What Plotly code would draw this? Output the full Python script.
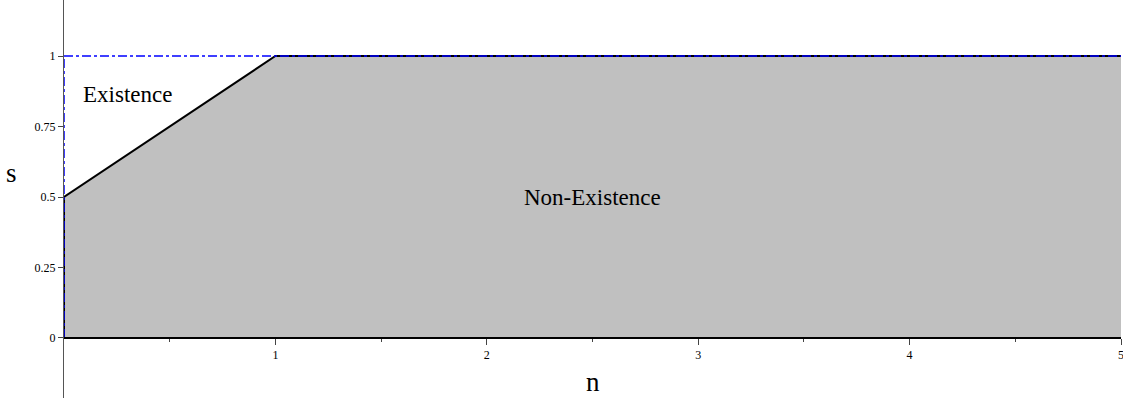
import plotly.graph_objects as go

# Data
n_boundary = [0, 0, 1, 5]
s_boundary = [0, 0.5, 1, 1]
n_fill = n_boundary + [5, 0]
s_fill = s_boundary + [0, 0]
n_top = [0, 5]
s_top = [1, 1]
n_left = [0, 0]
s_left = [0, 1]
x_ticks = [1, 2, 3, 4, 5]
y_ticks = [0, 0.25, 0.5, 0.75, 1]
y_labels = ["0", "0.25", "0.5", "0.75", "1"]

Y_MIN, Y_MAX = -0.2128, 1.1986
SERIF = "Times New Roman"

fig = go.Figure()
fig.add_trace(go.Scatter(x=n_fill, y=s_fill, mode="lines", fill="toself",
                         fillcolor="#C0C0C0", line=dict(width=0), hoverinfo="skip",
                         showlegend=False))
fig.add_trace(go.Scatter(x=n_boundary, y=s_boundary, mode="lines",
                         line=dict(color="black", width=2), showlegend=False))
fig.add_trace(go.Scatter(x=n_top, y=s_top, mode="lines",
                         line=dict(color="#0000FF", width=1.5, dash="dashdot"),
                         showlegend=False))
fig.add_trace(go.Scatter(x=n_left, y=s_left, mode="lines",
                         line=dict(color="#0000FF", width=1.5, dash="dashdot"),
                         showlegend=False))

x_pos = (0 - Y_MIN) / (Y_MAX - Y_MIN)

fig.update_layout(
    width=1123, height=398,
    margin=dict(l=64, r=2, t=0, b=0, autoexpand=False),
    plot_bgcolor="white", paper_bgcolor="white",
    font=dict(family=SERIF, color="black", size=12),
    xaxis=dict(range=[0, 5], anchor="free", position=x_pos, automargin=False,
               showgrid=False, zeroline=False, showline=True, linecolor="black",
               linewidth=1.5, tickvals=x_ticks, ticktext=[str(v) for v in x_ticks],
               ticks="outside", ticklen=6, tickcolor="#444",
               tickfont=dict(family=SERIF, size=12), ticklabeloverflow="allow",
               minor=dict(tickvals=[0.5, 1.5, 2.5, 3.5, 4.5], ticks="outside",
                          ticklen=3, tickcolor="#444")),
    yaxis=dict(range=[Y_MIN, Y_MAX], automargin=False, showgrid=False, zeroline=False,
               showline=True, linecolor="#555", linewidth=1, tickvals=y_ticks,
               ticktext=y_labels, ticks="outside", ticklen=5, tickcolor="#444",
               tickfont=dict(family=SERIF, size=12)),
    annotations=[
        dict(text="Existence", x=0.3027, y=0.865, xref="x", yref="y", showarrow=False,
             font=dict(family=SERIF, size=23)),
        dict(text="Non-Existence", x=2.50, y=0.4965, xref="x", yref="y", showarrow=False,
             font=dict(family=SERIF, size=23)),
        dict(text="s", x=(4 - 64) / 1057, xanchor="left", y=0.585, xref="paper",
             yref="y", showarrow=False, font=dict(family=SERIF, size=27)),
        dict(text="n", x=2.5, y=-0.156, xref="x",
             yref="y", showarrow=False, font=dict(family=SERIF, size=27)),
    ],
)

fig.write_html("out.html", config={"displayModeBar": False},
               post_script="document.body.style.margin='0';")
